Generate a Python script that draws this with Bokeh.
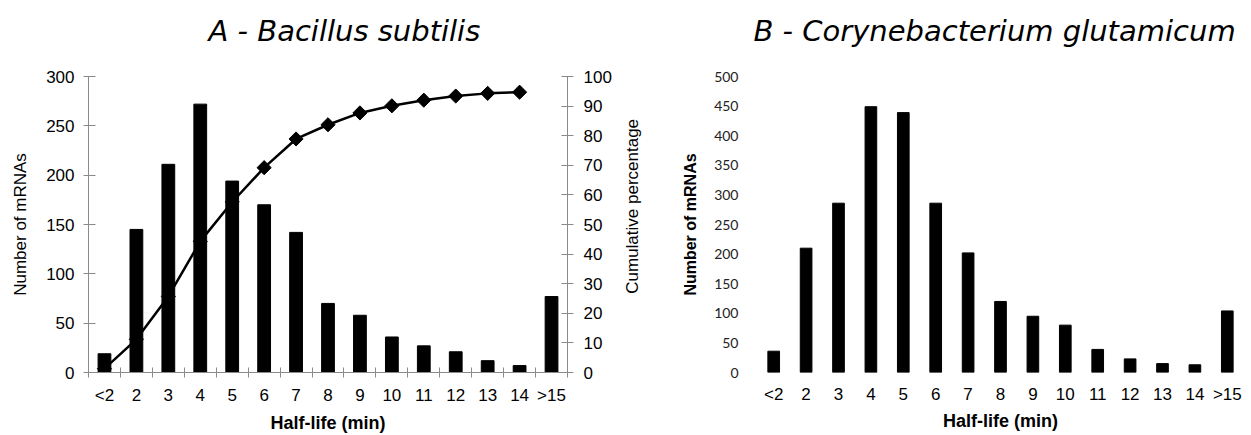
import math
from bokeh.plotting import figure
from bokeh.models import Range1d, LinearAxis, FixedTicker, SingleIntervalTicker, Label
from bokeh.layouts import row, column
from bokeh.embed import file_html
from bokeh.resources import INLINE

# ---------------- data ----------------
categories = ["<2", "2", "3", "4", "5", "6", "7", "8", "9", "10", "11", "12", "13", "14", ">15"]
bacillus_counts = [19, 145, 211, 272, 194, 170, 142, 70, 58, 36, 27, 21, 12, 7, 77]
bacillus_cumulative = [1.3, 11.2, 25.7, 44.3, 57.6, 69.2, 78.9, 83.7, 87.7, 90.1, 92.0, 93.4, 94.3, 94.7]
coryne_counts = [36, 210, 286, 449, 439, 286, 202, 120, 95, 80, 39, 23, 15, 13, 104]

title_a = "A - Bacillus subtilis"
title_b = "B - Corynebacterium glutamicum"
cum_title = "Cumulative percentage"

positions = [i + 0.5 for i in range(len(categories))]
boundaries = list(range(len(categories) + 1))
labels_map = {p: c for p, c in zip(positions, categories)}

ARIAL = "Liberation Sans"
GRAY = "#8a8a8a"
HEADER_H = 60
MAIN_H = 435 - HEADER_H
FRAME_A = (76, 373)   # top / bottom of panel A plot area in page pixels
FRAME_B = (74, 379)


def bare(fig):
    fig.outline_line_color = None
    fig.grid.visible = False
    return fig


# ---------------- header with the two panel titles (pixel coordinates) ----------------
header = bare(figure(width=1251, height=HEADER_H, output_backend="svg", toolbar_location=None,
                     x_range=Range1d(0, 1251), y_range=Range1d(HEADER_H, 0),
                     x_axis_location=None, y_axis_location=None, min_border=0))
for txt, xpos in ((title_a, 208), (title_b, 753)):
    header.add_layout(Label(text=txt, x=xpos, y=30, text_font="DejaVu Sans", text_font_style="italic",
                            text_font_size="29px", text_color="black",
                            text_align="left", text_baseline="middle"))

# ---------------- panel A ----------------
pA = bare(figure(width=614, height=MAIN_H, output_backend="svg", toolbar_location=None,
                 x_range=Range1d(0, len(categories)), y_range=Range1d(0, 300),
                 min_border_left=88, min_border_right=45,
                 min_border_top=FRAME_A[0] - HEADER_H, min_border_bottom=435 - FRAME_A[1]))
pA.extra_y_ranges = {"cum": Range1d(0, 100)}

pA.vbar(x=positions, top=bacillus_counts, width=0.4, color="black")
cum_x = positions[:len(bacillus_cumulative)]
pA.line(x=cum_x, y=bacillus_cumulative, y_range_name="cum", line_width=2.5, color="black")
pA.scatter(x=cum_x, y=bacillus_cumulative, y_range_name="cum", marker="square",
           angle=math.pi / 4, size=10, color="black")

xa = pA.xaxis[0]
xa.ticker = FixedTicker(ticks=positions, minor_ticks=boundaries)
xa.major_label_overrides = labels_map
xa.major_tick_line_color = None
xa.major_tick_in = 0
xa.major_tick_out = 5
xa.minor_tick_in = 5
xa.minor_tick_out = 5
xa.minor_tick_line_color = GRAY
xa.axis_line_color = GRAY
xa.major_label_standoff = 8
xa.major_label_text_font = ARIAL
xa.major_label_text_font_size = "17px"
xa.major_label_text_color = "black"
xa.axis_label = "Half-life (min)"
xa.axis_label_text_font = ARIAL
xa.axis_label_text_font_style = "bold"
xa.axis_label_text_font_size = "18px"
xa.axis_label_text_color = "black"
xa.axis_label_standoff = 5

ya = pA.yaxis[0]
ya.ticker = SingleIntervalTicker(interval=50)
ya.minor_tick_line_color = None
ya.major_tick_in = 7
ya.major_tick_out = 5
ya.major_tick_line_color = GRAY
ya.axis_line_color = GRAY
ya.major_label_standoff = 9
ya.major_label_text_font = ARIAL
ya.major_label_text_font_size = "17px"
ya.major_label_text_color = "black"
ya.axis_label = "Number of mRNAs"
ya.axis_label_text_font = ARIAL
ya.axis_label_text_font_style = "normal"
ya.axis_label_text_font_size = "17px"
ya.axis_label_text_color = "black"
ya.axis_label_standoff = 13

yr = LinearAxis(y_range_name="cum", ticker=SingleIntervalTicker(interval=10))
yr.minor_tick_line_color = None
yr.major_tick_in = 6
yr.major_tick_out = 6
yr.major_tick_line_color = GRAY
yr.axis_line_color = GRAY
yr.major_label_standoff = 10
yr.major_label_text_font = ARIAL
yr.major_label_text_font_size = "17px"
yr.major_label_text_color = "black"
pA.add_layout(yr, "right")

# ---------------- strip holding the right-axis title of panel A (reads bottom to top) ----------------
MID_W = 36
mid = bare(figure(width=MID_W, height=MAIN_H, output_backend="svg", toolbar_location=None,
                  x_range=Range1d(0, MID_W), y_range=Range1d(MAIN_H, 0),
                  x_axis_location=None, y_axis_location=None, min_border=0))
mid.add_layout(Label(text=cum_title, x=18, y=(FRAME_A[0] + FRAME_A[1]) / 2 - HEADER_H, angle=math.pi / 2,
                     text_font=ARIAL, text_font_size="17px", text_color="black",
                     text_align="center", text_baseline="middle"))

# ---------------- panel B ----------------
pB = bare(figure(width=1251 - 614 - MID_W, height=MAIN_H, output_backend="svg", toolbar_location=None,
                 x_range=Range1d(0, len(categories)), y_range=Range1d(0, 500),
                 min_border_left=107, min_border_right=8,
                 min_border_top=FRAME_B[0] - HEADER_H, min_border_bottom=435 - FRAME_B[1]))

pB.vbar(x=positions, top=coryne_counts, width=0.36, color="black")

xb = pB.xaxis[0]
xb.ticker = FixedTicker(ticks=positions)
xb.major_label_overrides = labels_map
xb.major_tick_line_color = None
xb.minor_tick_line_color = None
xb.axis_line_color = None
xb.major_tick_in = 0
xb.major_tick_out = 0
xb.major_label_standoff = 12
xb.major_label_text_font = ARIAL
xb.major_label_text_font_size = "17px"
xb.major_label_text_color = "black"
xb.axis_label = "Half-life (min)"
xb.axis_label_text_font = ARIAL
xb.axis_label_text_font_style = "bold"
xb.axis_label_text_font_size = "18px"
xb.axis_label_text_color = "black"
xb.axis_label_standoff = 4

yb = pB.yaxis[0]
yb.ticker = SingleIntervalTicker(interval=50)
yb.major_tick_line_color = None
yb.minor_tick_line_color = None
yb.axis_line_color = None
yb.major_tick_in = 0
yb.major_tick_out = 0
yb.major_label_standoff = 15
yb.major_label_text_font = "Lato"
yb.major_label_text_font_size = "14px"
yb.major_label_text_color = "#222222"
yb.axis_label = "Number of mRNAs"
yb.axis_label_text_font = ARIAL
yb.axis_label_text_font_style = "bold"
yb.axis_label_text_font_size = "16px"
yb.axis_label_text_color = "black"
yb.axis_label_standoff = 12

layout = column(header, row(pA, mid, pB))
open("out.html", "w").write(file_html(layout, INLINE))
